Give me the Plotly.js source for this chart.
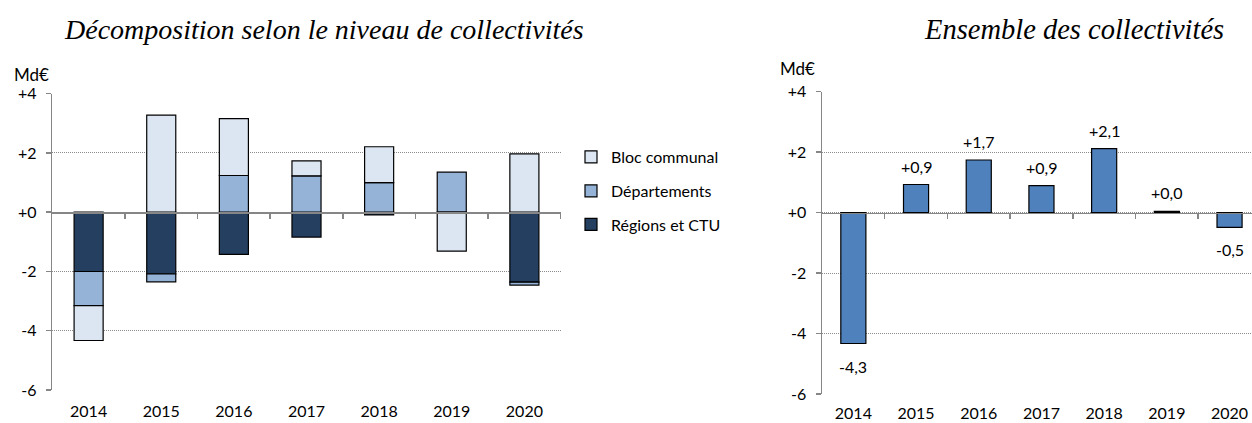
<!DOCTYPE html>
<html>
<head>
<meta charset="utf-8">
<script src="https://cdn.plot.ly/plotly-3.0.1.min.js"></script>
<style>
html,body{margin:0;padding:0;background:#fff;}
#chart{width:1252px;height:423px;}
</style>
</head>
<body>
<div id="chart"></div>
<script>
// ---- Data ----
const years = ['2014', '2015', '2016', '2017', '2018', '2019', '2020'];
const regionsCTU = [-2.00, -2.08, -1.42, -0.84, -0.09, 0.00, -2.36];
const departements = [-1.15, -0.27, 1.24, 1.23, 1.00, 1.35, -0.10];
const blocCommunal = [-1.18, 3.28, 1.92, 0.50, 1.21, -1.31, 1.97];
const ensemble = [-4.33, 0.93, 1.74, 0.89, 2.12, 0.04, -0.49];
const yTickVals = [-6, -4, -2, 0, 2, 4];
const yTickText = ['-6', '-4', '-2', '+0', '+2', '+4'];
const seriesNames = ['Bloc communal', 'Départements', 'Régions et CTU'];
const leftTitle = 'Décomposition selon le niveau de collectivités';
const rightTitle = 'Ensemble des collectivités';
const unitLabel = 'Md€';

// ---- Geometry helpers (pixels -> paper) ----
const W = 1252, H = 423;
const px = x => x / W;
const py = y => (H - y) / H;

const FONT = 'Lato, "Open Sans", sans-serif';
const SERIF = '"Liberation Serif", "Times New Roman", serif';
const C_BLOC = '#dce6f2', C_DEP = '#95b3d7', C_REG = '#243f60', C_TOT = '#4f81bd';
const AXC = '#868686', GRIDC = '#8c8c8c';

const fmt = v => (v >= 0 ? '+' : '') + v.toFixed(1).replace('.', ',');

const lineBlack = {color: '#000', width: 1.2};

const traces = [
  {type: 'bar', name: seriesNames[2], x: years, y: regionsCTU, xaxis: 'x', yaxis: 'y',
   marker: {color: C_REG, line: lineBlack}, legend: 'legend3', hoverinfo: 'skip'},
  {type: 'bar', name: seriesNames[1], x: years, y: departements, xaxis: 'x', yaxis: 'y',
   marker: {color: C_DEP, line: lineBlack}, legend: 'legend2', hoverinfo: 'skip'},
  {type: 'bar', name: seriesNames[0], x: years, y: blocCommunal, xaxis: 'x', yaxis: 'y',
   marker: {color: C_BLOC, line: lineBlack}, legend: 'legend', hoverinfo: 'skip'},
  {type: 'bar', name: 'Ensemble', x: years, y: ensemble, xaxis: 'x3', yaxis: 'y3',
   marker: {color: C_TOT, line: lineBlack}, showlegend: false, hoverinfo: 'skip'},
  // empty traces to register the zero-line axes
  {type: 'scatter', x: [], y: [], xaxis: 'x2', yaxis: 'y', showlegend: false, hoverinfo: 'skip'},
  {type: 'scatter', x: [], y: [], xaxis: 'x4', yaxis: 'y3', showlegend: false, hoverinfo: 'skip'}
];

const leftX = [px(52.3), px(560.7)];
const leftY = [py(390), py(93.7)];
const rightX = [px(822), 1];
const rightY = [py(394), py(91.7)];
const rightRangeEnd = -0.5 + (1252 - 822) / 62.7;

const zeroPos = (dom) => dom[0] + (0 - (-6)) / 10 * (dom[1] - dom[0]);

const yAxisCommon = {
  range: [-6, 4], tickmode: 'array', tickvals: yTickVals, ticktext: yTickText,
  showline: true, linecolor: AXC, linewidth: 1.5, ticks: 'outside', ticklen: 5, tickcolor: AXC, tickwidth: 1.5,
  showgrid: true, gridcolor: GRIDC, griddash: '1px,1px', gridwidth: 1, zeroline: false,
  tickfont: {family: FONT, size: 16, color: '#000'}, ticklabelstandoff: 6, fixedrange: true
};

const xLabelCommon = {
  type: 'category', showline: false, ticks: '', showgrid: false, zeroline: false,
  tickfont: {family: FONT, size: 16, color: '#000'}, fixedrange: true
};

const xZeroCommon = {
  type: 'linear', anchor: 'free', showline: true, linecolor: AXC, linewidth: 1.5,
  ticks: 'outside', ticklen: 5, tickcolor: AXC, tickwidth: 1.5, showticklabels: false,
  showgrid: false, zeroline: false, tickmode: 'array', fixedrange: true
};

const legendCommon = {
  xanchor: 'left', yanchor: 'middle', bgcolor: 'rgba(0,0,0,0)',
  font: {family: FONT, size: 16, color: '#000'}, itemwidth: 30, borderwidth: 0
};

// data labels on the right chart: positioned by category index and value
const labelAnnotations = ensemble.map((v, i) => ({
  text: fmt(v), xref: 'x3', yref: 'y3', x: i, y: v,
  xanchor: 'center', yanchor: v >= 0 ? 'bottom' : 'top', yshift: v >= 0 ? 7 : -11,
  showarrow: false, font: {family: FONT, size: 16, color: '#000'}
}));

const layout = {
  width: W, height: H,
  margin: {l: 0, r: 0, t: 0, b: 0},
  paper_bgcolor: '#fff', plot_bgcolor: 'rgba(0,0,0,0)',
  barmode: 'relative', bargap: 0.6,
  showlegend: true,
  xaxis: Object.assign({}, xLabelCommon, {domain: leftX, anchor: 'y', range: [-0.5, 6.5], ticklabelstandoff: 10}),
  yaxis: Object.assign({}, yAxisCommon, {domain: leftY, anchor: 'x'}),
  xaxis2: Object.assign({}, xZeroCommon, {overlaying: 'x', range: [-0.5, 6.5],
    tickvals: [0.5, 1.5, 2.5, 3.5, 4.5, 5.5, 6.5], position: zeroPos(leftY)}),
  xaxis3: Object.assign({}, xLabelCommon, {domain: rightX, anchor: 'y3', range: [-0.5, rightRangeEnd], ticklabelstandoff: 8}),
  yaxis3: Object.assign({}, yAxisCommon, {domain: rightY, anchor: 'x3'}),
  xaxis4: Object.assign({}, xZeroCommon, {overlaying: 'x3', range: [-0.5, rightRangeEnd],
    tickvals: [0.5, 1.5, 2.5, 3.5, 4.5, 5.5], position: zeroPos(rightY)}),
  legend: Object.assign({}, legendCommon, {x: px(571), y: py(157)}),
  legend2: Object.assign({}, legendCommon, {x: px(571), y: py(191)}),
  legend3: Object.assign({}, legendCommon, {x: px(571), y: py(224.5)}),
  annotations: [
    {text: leftTitle, xref: 'paper', yref: 'paper', x: px(324), y: py(30), xanchor: 'center', yanchor: 'middle',
     showarrow: false, font: {family: SERIF, size: 28, style: 'italic', color: '#000'}},
    {text: rightTitle, xref: 'paper', yref: 'paper', x: px(1074), y: py(30), xanchor: 'center', yanchor: 'middle',
     showarrow: false, font: {family: SERIF, size: 28.5, style: 'italic', color: '#000'}},
    {text: unitLabel, xref: 'paper', yref: 'paper', x: px(31), y: py(74), xanchor: 'center', yanchor: 'middle',
     showarrow: false, font: {family: FONT, size: 17, color: '#000'}},
    {text: unitLabel, xref: 'paper', yref: 'paper', x: px(797.5), y: py(68), xanchor: 'center', yanchor: 'middle',
     showarrow: false, font: {family: FONT, size: 17, color: '#000'}}
  ].concat(labelAnnotations)
};

Plotly.newPlot('chart', traces, layout, {staticPlot: true, displayModeBar: false});
</script>
</body>
</html>
